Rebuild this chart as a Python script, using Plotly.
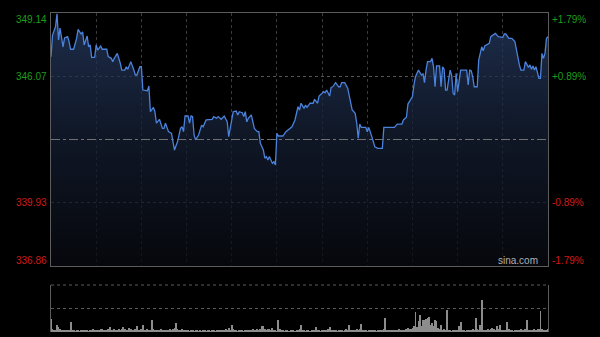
import plotly.graph_objects as go

# ---- data ----
prev_close = 343.00
y_low, y_high = 336.86, 349.14
left_vals = [349.14, 346.07, 339.93, 336.86]
left_labels = ["349.14", "346.07", "339.93", "336.86"]
right_labels = ["+1.79%", "+0.89%", "-0.89%", "-1.79%"]

minute = [0, 1, 3, 4, 5, 6, 8, 9, 11, 12, 13, 15, 17, 18, 20, 21, 22, 24, 25, 26,
          27, 29, 30, 31, 33, 34, 37, 38, 40, 41, 42, 44, 46, 47, 49, 50, 51, 53, 55, 56,
          57, 59, 60, 61, 64, 65, 66, 68, 69, 70, 72, 74, 75, 76, 78, 80, 81, 82, 83, 84,
          86, 87, 88, 89, 91, 92, 93, 94, 95, 96, 98, 100, 101, 103, 107, 108, 110, 111, 113, 115,
          117, 118, 120, 121, 123, 124, 125, 127, 128, 129, 130, 131, 133, 134, 135, 137, 138, 139, 141, 142,
          143, 144, 145, 147, 148, 149, 150, 151, 154, 156, 159, 160, 162, 164, 165, 166, 168, 169, 170, 172,
          174, 175, 177, 178, 180, 181, 182, 183, 185, 186, 187, 189, 191, 192, 193, 195, 197, 199, 200, 202,
          203, 204, 205, 206, 209, 210, 211, 213, 215, 217, 220, 221, 224, 228, 230, 233, 234, 236, 237, 238,
          240, 241, 242, 244, 246, 247, 248, 249, 250, 252, 253, 254, 255, 256, 258, 259, 260, 261, 262, 263,
          265, 266, 267, 268, 269, 270, 272, 276, 277, 278, 279, 280, 281, 283, 284, 286, 287, 288, 289, 291,
          292, 294, 295, 297, 298, 300, 301, 302, 304, 306, 308, 309, 311, 312, 314, 315, 317, 318, 319, 320,
          321, 322, 323, 324, 325, 326, 327, 328, 329, 330]

price = [347.02, 348.07, 348.48, 349.10, 347.83, 348.41, 347.50, 347.93, 347.99, 347.75,
         347.38, 347.38, 347.91, 348.35, 348.12, 348.23, 347.59, 348.02, 347.50, 347.59,
         346.99, 346.99, 347.59, 347.34, 347.54, 347.38, 347.38, 347.02, 346.94, 346.78,
         346.94, 347.18, 346.70, 346.37, 346.37, 346.53, 346.41, 346.78, 346.37, 346.13,
         346.13, 346.53, 346.53, 345.40, 345.37, 345.60, 344.35, 344.56, 344.35, 343.79,
         343.98, 343.54, 343.54, 343.79, 343.38, 343.30, 342.89, 342.49, 342.70, 342.89,
         343.54, 343.62, 343.38, 344.14, 344.14, 343.79, 344.14, 344.11, 343.22, 342.98,
         343.22, 343.70, 343.62, 343.95, 343.98, 344.11, 344.03, 344.11, 343.98, 344.14,
         343.86, 343.14, 343.95, 344.35, 344.38, 344.19, 344.35, 344.30, 344.11, 344.35,
         343.86, 344.03, 344.19, 343.86, 343.54, 343.38, 343.38, 342.82, 342.49, 342.09,
         342.17, 342.00, 342.17, 341.84, 341.92, 341.76, 343.30, 343.17, 343.17, 343.38,
         343.59, 343.62, 343.95, 344.59, 344.43, 344.76, 344.51, 344.67, 344.56, 344.76,
         344.76, 344.95, 344.76, 345.11, 345.24, 345.32, 345.27, 345.40, 345.11, 345.53,
         345.56, 345.76, 345.56, 345.56, 345.76, 345.76, 345.49, 344.76, 344.43, 344.27,
         343.79, 343.06, 343.75, 343.59, 343.59, 343.38, 343.59, 343.14, 342.65, 342.57,
         342.57, 343.59, 343.59, 343.59, 343.75, 343.75, 343.95, 344.08, 344.72, 344.83,
         345.08, 345.65, 346.05, 346.37, 346.13, 346.18, 345.76, 346.37, 346.78, 346.78,
         346.94, 346.53, 345.56, 346.57, 346.57, 345.56, 346.53, 346.41, 345.40, 345.40,
         346.37, 346.13, 345.24, 345.16, 346.21, 345.32, 346.37, 346.37, 345.65, 346.37,
         346.34, 346.05, 345.56, 345.56, 346.86, 347.50, 347.31, 347.54, 347.59, 347.67,
         347.99, 348.12, 348.15, 347.99, 347.99, 347.96, 348.12, 348.12, 347.91, 347.91,
         347.75, 347.34, 346.62, 346.37, 346.37, 346.78, 346.50, 346.62, 346.41, 346.57,
         346.37, 346.53, 346.29, 345.97, 345.97, 347.18, 346.94, 347.18, 347.91, 347.99]

volume = [130, 30, 25, 20, 73, 50, 30, 20, 15, 20, 25, 15, 20, 100, 20, 15, 10, 15, 20, 10,
          12, 15, 20, 25, 15, 10, 20, 15, 30, 20, 15, 25, 20, 30, 35, 20, 15, 25, 30, 50,
          25, 20, 30, 25, 20, 35, 25, 30, 50, 30, 20, 25, 40, 30, 20, 25, 30, 63, 25, 20,
          30, 73, 25, 20, 30, 15, 25, 123, 30, 20, 15, 25, 20, 30, 15, 20, 25, 15, 20, 30,
          25, 30, 40, 90, 30, 25, 20, 30, 15, 20, 25, 15, 10, 20, 15, 10, 15, 20, 10, 15,
          10, 15, 20, 10, 15, 12, 10, 15, 20, 10, 15, 20, 15, 25, 20, 15, 30, 25, 40, 20,
          73, 30, 20, 15, 10, 15, 20, 15, 10, 20, 15, 25, 20, 15, 30, 20, 25, 30, 20, 35,
          63, 63, 30, 25, 35, 30, 20, 45, 25, 15, 10, 123, 30, 20, 15, 10, 20, 15, 10, 15,
          20, 15, 10, 15, 20, 30, 73, 20, 15, 10, 20, 15, 10, 15, 20, 25, 47, 20, 15, 10,
          15, 20, 25, 15, 30, 50, 25, 20, 15, 20, 10, 15, 20, 15, 10, 20, 30, 15, 73, 25,
          20, 15, 25, 30, 20, 35, 83, 25, 20, 15, 10, 20, 15, 25, 20, 15, 10, 20, 25, 15,
          20, 30, 140, 25, 20, 15, 20, 25, 20, 15, 25, 30, 20, 15, 25, 20, 30, 40, 30, 35,
          40, 60, 197, 50, 113, 167, 60, 123, 117, 130, 140, 150, 73, 90, 63, 123, 107, 40, 30, 73,
          25, 30, 20, 217, 25, 15, 10, 20, 15, 25, 20, 57, 97, 20, 15, 10, 20, 15, 25, 20,
          30, 20, 140, 30, 20, 73, 323, 25, 15, 20, 30, 25, 35, 40, 30, 25, 57, 30, 73, 20,
          15, 25, 20, 97, 30, 20, 15, 10, 20, 25, 20, 15, 30, 20, 25, 30, 123, 20, 15, 25,
          20, 30, 25, 35, 30, 207, 30, 25, 20, 25, 30]
vol_minute = list(range(len(volume)))
vol_max = 470
session_len = 330
grid_minutes = list(range(30, session_len, 30))

GREEN = "#1a9f1a"
RED = "#d01a1a"
FONT = "Liberation Sans, Arial, sans-serif"

fig = go.Figure()

fig.add_trace(go.Scatter(
    x=minute, y=price, mode="lines",
    line=dict(color="#4a82dc", width=1.3),
    fill="tozeroy",
    fillgradient=dict(type="vertical", start=y_low, stop=y_high,
                      colorscale=[[0, "rgba(8,10,16,0.75)"],
                                  [0.5, "rgba(20,30,50,0.75)"],
                                  [1, "rgba(40,60,100,0.75)"]]),
    xaxis="x", yaxis="y", hoverinfo="skip", showlegend=False))

fig.add_trace(go.Bar(
    x=vol_minute, y=volume, width=0.6,
    marker=dict(color="#8c8c8c", line=dict(width=0)),
    xaxis="x2", yaxis="y2", hoverinfo="skip", showlegend=False))

top_main = 1 - 13 / 337
bot_main = 1 - 266 / 337
top_vol = 1 - 285 / 337
bot_vol = 1 - 332 / 337

fig.update_layout(
    width=600, height=337,
    margin=dict(l=51, r=52, t=0, b=0),
    paper_bgcolor="#000000", plot_bgcolor="#000000",
    bargap=0,
    xaxis=dict(domain=[0, 1], range=[0, session_len], anchor="y",
               showticklabels=False, ticks="", tickvals=grid_minutes,
               showgrid=True, gridcolor="#3a3a3a", griddash="dot", gridwidth=1,
               zeroline=False, showline=True, mirror=True, linecolor="#5c5c5c", linewidth=1),
    yaxis=dict(domain=[bot_main, top_main], range=[y_low, y_high], anchor="x",
               showticklabels=False, ticks="", tickvals=[left_vals[1], left_vals[2]],
               showgrid=True, gridcolor="#555555", griddash="dot", gridwidth=1,
               zeroline=False, showline=True, mirror=True, linecolor="#5c5c5c", linewidth=1),
    xaxis2=dict(domain=[0, 1], range=[0, session_len], anchor="y2",
                showticklabels=False, ticks="", showgrid=False, zeroline=False, showline=False),
    yaxis2=dict(domain=[bot_vol, top_vol], range=[0, vol_max], anchor="x2",
                showticklabels=False, ticks="", showgrid=False, zeroline=False,
                showline=True, mirror=True, linecolor="#5c5c5c", linewidth=1),
)

shapes = [
    dict(type="line", xref="x domain", x0=0, x1=1, yref="y", y0=prev_close, y1=prev_close,
         line=dict(color="#707070", width=1, dash="dashdot"), layer="above"),
    dict(type="line", xref="x2 domain", x0=0, x1=1, yref="y2 domain", y0=1, y1=1,
         line=dict(color="#5a5a5a", width=1, dash="dot")),
    dict(type="line", xref="x2 domain", x0=0, x1=1, yref="y2 domain", y0=0.5, y1=0.5,
         line=dict(color="#5a5a5a", width=1, dash="dot")),
]
fig.update_layout(shapes=shapes)

anns = []
anchors = ["top", "middle", "middle", "bottom"]
yshifts = [1, 0, 0, -2]
for i, (v, lt, rt) in enumerate(zip(left_vals, left_labels, right_labels)):
    col = GREEN if v > prev_close else RED
    anns.append(dict(xref="paper", x=0, xanchor="right", xshift=-2, yref="y", y=v,
                     yanchor=anchors[i], yshift=yshifts[i], text=lt, showarrow=False,
                     font=dict(family=FONT, size=10, color=col)))
    anns.append(dict(xref="paper", x=1, xanchor="left", xshift=2, yref="y", y=v,
                     yanchor=anchors[i], yshift=yshifts[i], text=rt, showarrow=False,
                     font=dict(family=FONT, size=10, color=col)))
anns.append(dict(xref="paper", x=1, xanchor="right", xshift=-8, yref="y", y=y_low,
                 yanchor="bottom", yshift=-2, text="sina.com", showarrow=False,
                 font=dict(family=FONT, size=10, color="#b0b0b0")))
fig.update_layout(annotations=anns)

fig.write_html("out.html")
